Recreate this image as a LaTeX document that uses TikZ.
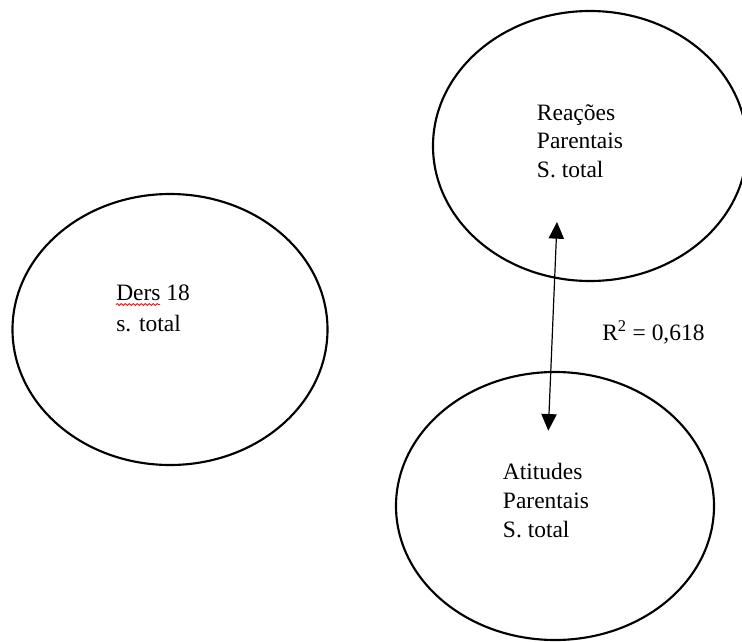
\documentclass[tikz,border=0pt]{standalone}
\usepackage{fontspec}
\setmainfont{Liberation Serif}
\usetikzlibrary{shapes.geometric,arrows.meta,decorations.pathmorphing}
\tikzset{
  oval/.style={draw=black, line width=1.6pt, ellipse, inner sep=0pt},
  lbl/.style={anchor=base west, inner sep=0pt, font=\fontsize{17.6}{21}\selectfont},
  link/.style={line width=0.9pt, {Triangle[length=12.5pt,width=11.5pt]}-{Triangle[length=12.5pt,width=11.5pt]}},
  squig/.style={draw=red, line width=0.6pt, decorate, decoration={snake, amplitude=0.7pt, segment length=3pt}}
}
\begin{document}
\begin{tikzpicture}[x=0.75pt,y=-0.75pt]
\useasboundingbox (0,0) rectangle (742,642);
\begin{scope}
\clip (0,0) rectangle (742,642);
\node[oval, minimum width=236.25pt, minimum height=203.25pt] (ders) at (170,329.5) {};
\node[oval, minimum width=235.5pt, minimum height=202.5pt] (reac) at (590,146) {};
\node[oval, minimum width=238.5pt, minimum height=201pt] (atit) at (555,506) {};
\end{scope}
% texts
\node[lbl] (d1) at (116,300.5) {Ders 18};
\node[lbl] (d2) at (116,331) {s. total};
\draw[squig] ([yshift=-3pt]d1.base west) -- ++(33pt,0);
\node[lbl] (r1) at (536.7,120) {Reações};
\node[lbl] (r2) at (536.7,148.5) {Parentais};
\node[lbl] (r3) at (536.7,177.3) {S. total};
\node[lbl] (a1) at (502.7,479) {Atitudes};
\node[lbl] (a2) at (502.7,508) {Parentais};
\node[lbl] (a3) at (502.7,537) {S. total};
\node[lbl] (rsq) at (602,340) {R\textsuperscript{2} = 0,618};
% arrow
\coordinate (ptop) at (557,222);
\coordinate (pbot) at (548.3,430.7);
\draw[link] (ptop) -- (pbot);
\end{tikzpicture}
\end{document}
